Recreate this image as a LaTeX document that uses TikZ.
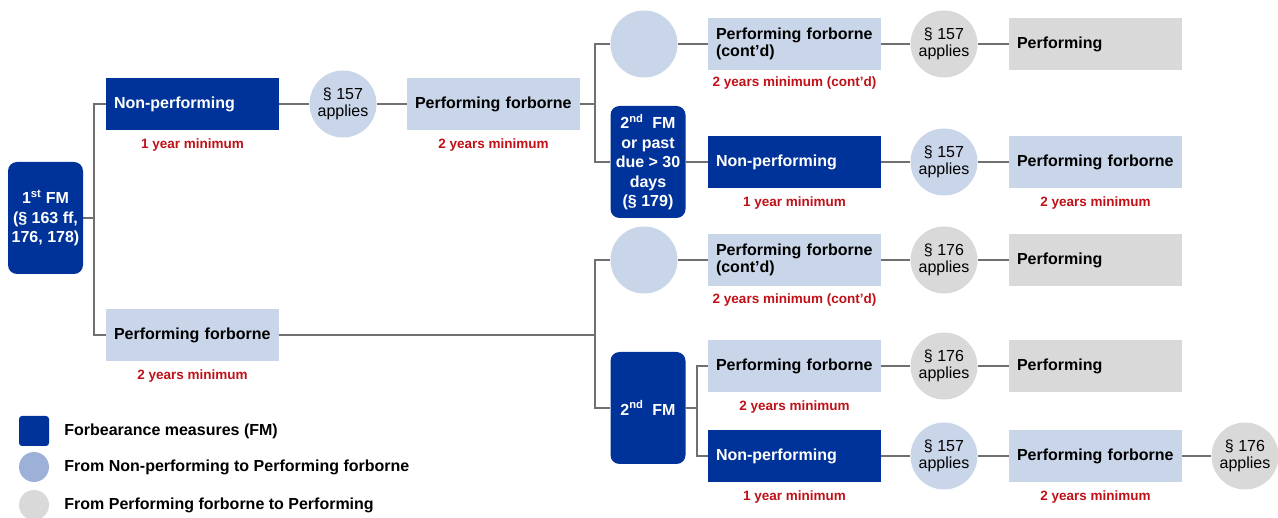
\documentclass[tikz,border=0pt]{standalone}
\usepackage{fontspec}
\setmainfont{Liberation Sans}
\usepackage{xcolor}
\usetikzlibrary{positioning}

\definecolor{fmblue}{RGB}{0,51,153}
\definecolor{pfblue}{RGB}{201,213,232}
\definecolor{legblue}{RGB}{157,176,216}
\definecolor{pgrey}{RGB}{217,217,217}
\definecolor{minred}{RGB}{192,16,24}
\definecolor{linegrey}{RGB}{112,112,112}

\tikzset{
  fmbox/.style={fill=fmblue, text=white, rounded corners=9pt, minimum width=75pt, minimum height=112pt,
    inner sep=1pt, align=center, font=\fontsize{16}{19.5}\selectfont\bfseries},
  statebox/.style={minimum width=173pt, minimum height=52pt, text width=157pt, inner xsep=8pt,
    inner ysep=0pt, align=left, font=\fontsize{16}{17}\selectfont\bfseries},
  npbox/.style={statebox, fill=fmblue, text=white},
  pfbox/.style={statebox, fill=pfblue},
  pbox/.style={statebox, fill=pgrey},
  dotnode/.style={circle, minimum size=67pt, inner sep=0pt, align=center, font=\fontsize{16}{17}\selectfont},
  bluedot/.style={dotnode, fill=pfblue},
  greydot/.style={dotnode, fill=pgrey},
  minlabel/.style={text=minred, inner sep=0pt, font=\fontsize{13.5}{16}\selectfont\bfseries},
  legtext/.style={inner sep=0pt, anchor=west, font=\fontsize{16}{19}\selectfont\bfseries},
  link/.style={draw=linegrey, line width=1.5pt}
}

\begin{document}
\begin{tikzpicture}[x=1pt, y=-1pt]
    \useasboundingbox (0,0) rectangle (1278,518);

    % First forbearance measure
    \node[fmbox] (fm1) at (45.5,218) {1\textsuperscript{st} FM\\(§ 163 ff,\\176, 178)};

    % Non-performing branch
    \node[npbox] (np1) at (192.5,104) {Non-performing};
    \node[minlabel, below=8pt of np1] (np1min) {1 year minimum};
    \node[bluedot] (c1) at (343,104) {§ 157\\applies};
    \node[pfbox] (pf1a) at (493.5,104) {Performing forborne};
    \node[minlabel, below=8pt of pf1a] (pf1amin) {2 years minimum};

    \node[bluedot] (c2) at (644,44) {};
    \node[pfbox] (pf2) at (794.5,44) {Performing forborne\\(cont'd)};
    \node[minlabel, below=6pt of pf2] (pf2min) {2 years minimum (cont'd)};
    \node[greydot] (c3) at (944,44) {§ 157\\applies};
    \node[pbox] (p1) at (1095.5,44) {Performing};

    \node[fmbox] (fm2a) at (648,162) {2\textsuperscript{nd}\ \ FM\\or past\\due > 30\\days\\(§ 179)};
    \node[npbox] (np2) at (794.5,162) {Non-performing};
    \node[minlabel, below=8pt of np2] (np2min) {1 year minimum};
    \node[bluedot] (c4) at (944,162) {§ 157\\applies};
    \node[pfbox] (pf3) at (1095.5,162) {Performing forborne};
    \node[minlabel, below=8pt of pf3] (pf3min) {2 years minimum};

    % Performing forborne branch
    \node[pfbox] (pf1b) at (192.5,335) {Performing forborne};
    \node[minlabel, below=8pt of pf1b] (pf1bmin) {2 years minimum};

    \node[bluedot] (c5) at (644,260) {};
    \node[pfbox] (pf4) at (794.5,260) {Performing forborne\\(cont'd)};
    \node[minlabel, below=7pt of pf4] (pf4min) {2 years minimum (cont'd)};
    \node[greydot] (c6) at (944,260) {§ 176\\applies};
    \node[pbox] (p2) at (1095.5,260) {Performing};

    \node[fmbox] (fm3) at (648,408) {2\textsuperscript{nd}\ \ FM};
    \node[pfbox] (pf5) at (794.5,366) {Performing forborne};
    \node[minlabel, below=8pt of pf5] (pf5min) {2 years minimum};
    \node[greydot] (c7) at (944,366) {§ 176\\applies};
    \node[pbox] (p3) at (1095.5,366) {Performing};

    \node[npbox] (np3) at (794.5,456) {Non-performing};
    \node[minlabel, below=8pt of np3] (np3min) {1 year minimum};
    \node[bluedot] (c8) at (944,456) {§ 157\\applies};
    \node[pfbox] (pf6) at (1095.5,456) {Performing forborne};
    \node[minlabel, below=8pt of pf6] (pf6min) {2 years minimum};
    \node[greydot] (c9) at (1245,456) {§ 176\\applies};

    % Junctions
    \coordinate (j1) at (94,218);
    \coordinate (j2) at (595,104);
    \coordinate (j3) at (595,335);
    \coordinate (j4) at (697,408);

    % Connectors
    \draw[link] (fm1.east) -- (j1);
    \draw[link] (np1.west) -| (j1) |- (pf1b.west);
    \draw[link] (np1) -- (c1) -- (pf1a);
    \draw[link] (pf1a.east) -- (j2);
    \draw[link] (c2.west) -| (j2) |- (fm2a.west);
    \draw[link] (c2) -- (pf2) -- (c3) -- (p1);
    \draw[link] (fm2a) -- (np2) -- (c4) -- (pf3);
    \draw[link] (pf1b.east) -- (j3);
    \draw[link] (c5.west) -| (j3) |- (fm3.west);
    \draw[link] (c5) -- (pf4) -- (c6) -- (p2);
    \draw[link] (fm3.east) -- (j4);
    \draw[link] (pf5.west) -| (j4) |- (np3.west);
    \draw[link] (pf5) -- (c7) -- (p3);
    \draw[link] (np3) -- (c8) -- (pf6) -- (c9);

    % Legend
    \node[fill=fmblue, rounded corners=3pt, minimum size=30pt, inner sep=0pt] (legfm) at (34,431) {};
    \node[legtext, right=15pt of legfm] (legfmtxt) {Forbearance measures (FM)};
    \node[circle, fill=legblue, minimum size=30pt, inner sep=0pt] (legnp) at (34,467) {};
    \node[legtext, right=15pt of legnp] (legnptxt) {From Non-performing to Performing forborne};
    \node[circle, fill=pgrey, minimum size=30pt, inner sep=0pt] (legpf) at (34,505) {};
    \node[legtext, right=15pt of legpf] (legpftxt) {From Performing forborne to Performing};
\end{tikzpicture}
\end{document}
